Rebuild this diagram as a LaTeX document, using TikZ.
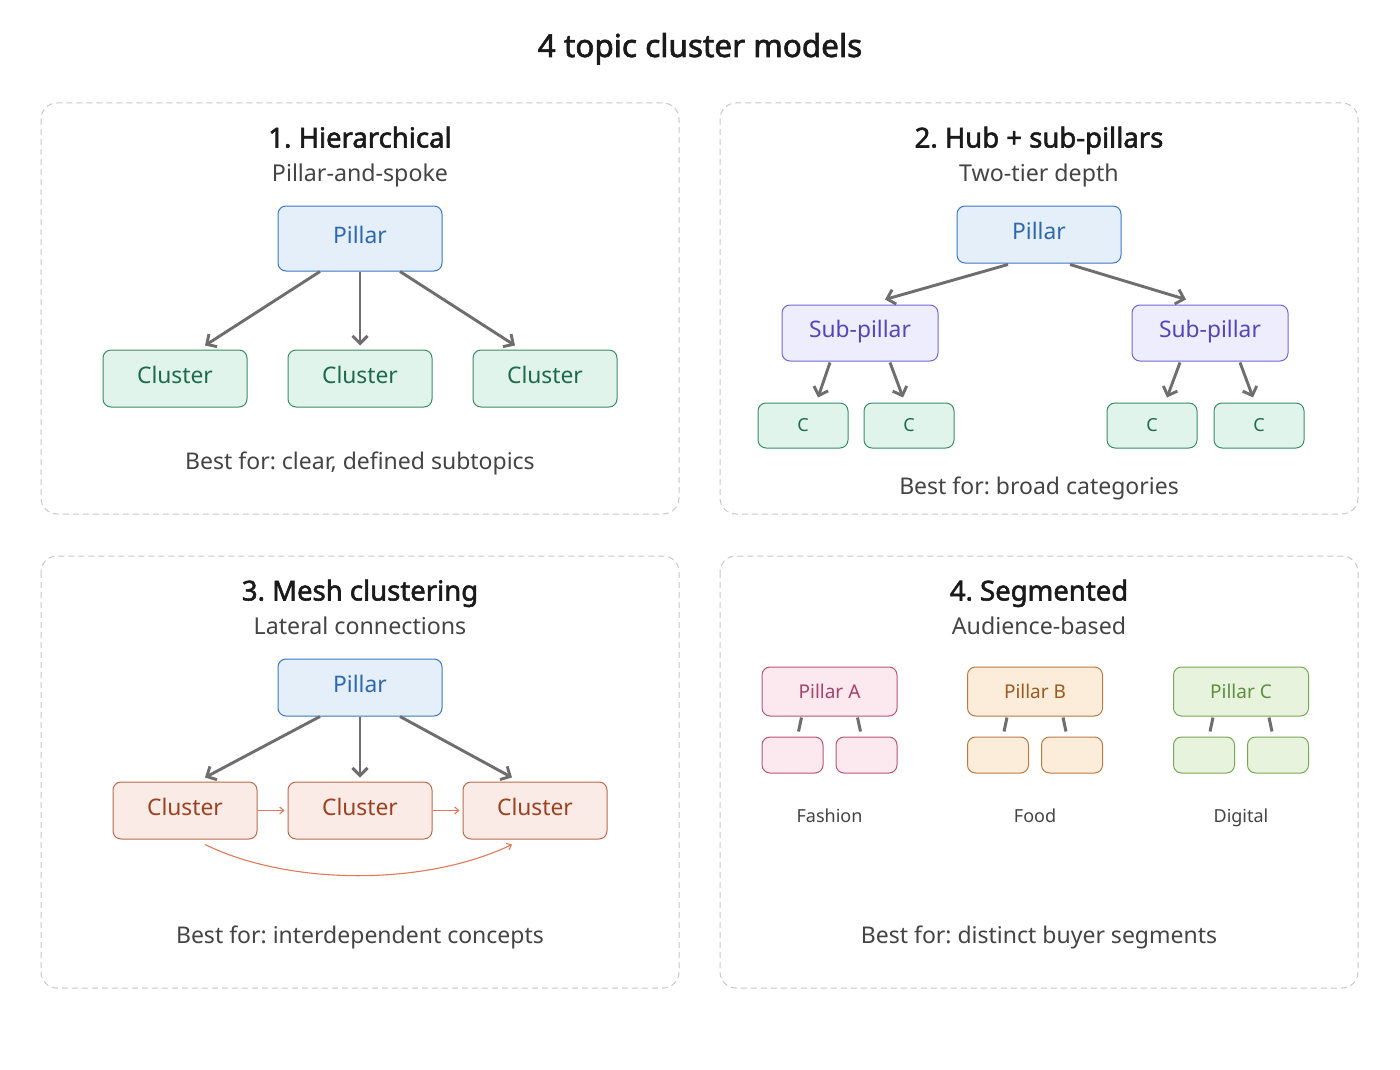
\documentclass[tikz,border=0pt]{standalone}
\usepackage{fontspec}
\setmainfont{Noto Sans}[AutoFakeBold=2]
\usetikzlibrary{arrows.meta,calc}
\frenchspacing
\definecolor{panelb}{HTML}{C8C8C8}
\definecolor{txtgray}{HTML}{444444}
\definecolor{ttl}{HTML}{1A1A1A}
\definecolor{arrgray}{HTML}{6E6E6E}
\definecolor{blfill}{HTML}{E5EFFA}\definecolor{bldraw}{HTML}{3A78C2}\definecolor{bltext}{HTML}{2F67AD}
\definecolor{grfill}{HTML}{E0F4EC}\definecolor{grdraw}{HTML}{3C8C68}\definecolor{grtext}{HTML}{1E6B4B}
\definecolor{pufill}{HTML}{EEEDFD}\definecolor{pudraw}{HTML}{7466D6}\definecolor{putext}{HTML}{5446B8}
\definecolor{orfill}{HTML}{FAEBE6}\definecolor{ordraw}{HTML}{BE6A4E}\definecolor{ortext}{HTML}{9C4222}\definecolor{orarr}{HTML}{E07B5A}
\definecolor{pkfill}{HTML}{FBE9EF}\definecolor{pkdraw}{HTML}{B9557A}\definecolor{pktext}{HTML}{A5436A}
\definecolor{tnfill}{HTML}{FBEDDA}\definecolor{tndraw}{HTML}{B97A45}\definecolor{tntext}{HTML}{9A5B22}
\definecolor{lgfill}{HTML}{E8F3DD}\definecolor{lgdraw}{HTML}{78A75A}\definecolor{lgtext}{HTML}{5E8F3F}
\tikzset{
  panel/.style={draw=panelb, line width=1pt, dash pattern=on 6pt off 4pt, rounded corners=16pt},
  box/.style={rounded corners=8pt, line width=1pt, inner sep=0pt, font=\fontsize{22.8}{26}\selectfont},
  upshift/.style={text height=16pt, text depth=7pt},
  bluebox/.style={box, upshift, fill=blfill, draw=bldraw, text=bltext, minimum width=164pt},
  greenbox/.style={box, upshift, fill=grfill, draw=grdraw, text=grtext, minimum width=144pt, minimum height=57pt},
  cbox/.style={box, fill=grfill, draw=grdraw, text=grtext, minimum width=90pt, minimum height=45pt, font=\fontsize{18}{22}\selectfont},
  purplebox/.style={box, upshift, fill=pufill, draw=pudraw, text=putext, minimum width=156pt, minimum height=56pt},
  orangebox/.style={box, upshift, fill=orfill, draw=ordraw, text=ortext, minimum width=144pt, minimum height=57pt},
  segbox/.style={box, minimum width=135pt, minimum height=49pt, font=\fontsize{19}{22}\selectfont},
  subbox/.style={box, minimum width=61pt, minimum height=36pt},
  pk/.style={fill=pkfill, draw=pkdraw, text=pktext},
  tn/.style={fill=tnfill, draw=tndraw, text=tntext},
  lg/.style={fill=lgfill, draw=lgdraw, text=lgtext},
  maintitle/.style={anchor=base, text=ttl, font=\fontsize{31.5}{34}\selectfont\bfseries},
  ptitle/.style={anchor=base, text=ttl, font=\fontsize{27.5}{30}\selectfont\bfseries},
  psub/.style={anchor=base, text=txtgray, font=\fontsize{23.2}{26}\selectfont},
  bestfor/.style={anchor=base, text=txtgray, font=\fontsize{23}{26}\selectfont},
  seglabel/.style={anchor=base, text=txtgray, font=\fontsize{18}{22}\selectfont},
  arr/.style={draw=arrgray, line width=2.9pt, -{Straight Barb[length=7.5pt,width=15pt]}},
  tick/.style={draw=arrgray, line width=3pt},
  oarr/.style={draw=orarr, line width=1.1pt, -{Straight Barb[length=4pt,width=7pt]}},
}
\begin{document}
\begin{tikzpicture}[x=1pt,y=-1pt]
\fill[white] (0,0) rectangle (1400,1070);
\useasboundingbox (0,0) rectangle (1400,1070);

\node[maintitle] (title) at (700,57) {4 topic cluster models};

% panels
\draw[panel] (41,103) rectangle (679,514);
\draw[panel] (720,103) rectangle (1358,514);
\draw[panel] (41,556) rectangle (679,988);
\draw[panel] (720,556) rectangle (1358,988);

% ---------- Panel 1
\node[ptitle] (t1) at (360,147.5) {1. Hierarchical};
\node[psub] (s1) at (360,181.5) {Pillar-and-spoke};
\node[bluebox, minimum height=65pt] (p1) at (360,238.5) {Pillar};
\node[greenbox] (c11) at (175,378.5) {Cluster};
\node[greenbox] (c12) at (360,378.5) {Cluster};
\node[greenbox] (c13) at (545,378.5) {Cluster};
\draw[arr] ([xshift=-40pt]p1.south) -- ([xshift=30pt,yshift=4pt]c11.north);
\draw[arr] (p1.south) -- ([yshift=4pt]c12.north);
\draw[arr] ([xshift=40pt]p1.south) -- ([xshift=-30pt,yshift=4pt]c13.north);
\node[bestfor] (b1) at (360,469.5) {Best for: clear, defined subtopics};

% ---------- Panel 2
\node[ptitle] (t2) at (1039,147.5) {2. Hub + sub-pillars};
\node[psub] (s2) at (1039,181.5) {Two-tier depth};
\node[bluebox, minimum height=57pt] (p2) at (1039,234.5) {Pillar};
\node[purplebox] (sp1) at (860,333) {Sub-pillar};
\node[purplebox] (sp2) at (1210,333) {Sub-pillar};
\node[cbox] (cc1) at (803,425.5) {C};
\node[cbox] (cc2) at (909,425.5) {C};
\node[cbox] (cc3) at (1152,425.5) {C};
\node[cbox] (cc4) at (1259,425.5) {C};
\draw[arr] ([xshift=-31pt,yshift=-1pt]p2.south) -- ([xshift=25pt,yshift=5pt]sp1.north);
\draw[arr] ([xshift=31pt,yshift=-1pt]p2.south) -- ([xshift=-24pt,yshift=5pt]sp2.north);
\draw[arr] ([xshift=-30pt,yshift=-1pt]sp1.south) -- ([xshift=15pt,yshift=5pt]cc1.north);
\draw[arr] ([xshift=30pt,yshift=-1pt]sp1.south) -- ([xshift=-6pt,yshift=5pt]cc2.north);
\draw[arr] ([xshift=-30pt,yshift=-1pt]sp2.south) -- ([xshift=15pt,yshift=5pt]cc3.north);
\draw[arr] ([xshift=30pt,yshift=-1pt]sp2.south) -- ([xshift=-6pt,yshift=5pt]cc4.north);
\node[bestfor] (b2) at (1039,494.5) {Best for: broad categories};

% ---------- Panel 3
\node[ptitle] (t3) at (360,600.5) {3. Mesh clustering};
\node[psub] (s3) at (360,634.5) {Lateral connections};
\node[bluebox, minimum height=57pt] (p3) at (360,687.5) {Pillar};
\node[orangebox] (o1) at (185,810.5) {Cluster};
\node[orangebox] (o2) at (360,810.5) {Cluster};
\node[orangebox] (o3) at (535,810.5) {Cluster};
\draw[arr] ([xshift=-40pt]p3.south) -- ([xshift=20pt,yshift=4pt]o1.north);
\draw[arr] (p3.south) -- ([yshift=4pt]o2.north);
\draw[arr] ([xshift=40pt]p3.south) -- ([xshift=-23pt,yshift=4pt]o3.north);
\draw[oarr] (o1.east) -- ([xshift=-3pt]o2.west);
\draw[oarr] (o2.east) -- ([xshift=-3pt]o3.west);
\coordinate (cs) at ([xshift=20pt,yshift=-5pt]o1.south);
\coordinate (ce) at ([xshift=-23pt,yshift=-5pt]o3.south);
\draw[oarr] (cs) .. controls (290,886) and (425,886) .. (ce);
\node[bestfor] (b3) at (360,943.5) {Best for: interdependent concepts};

% ---------- Panel 4
\node[ptitle] (t4) at (1039,600.5) {4. Segmented};
\node[psub] (s4) at (1039,634.5) {Audience-based};

\node[segbox, pk] (pa) at (829.5,691.5) {Pillar A};
\node[subbox, pk] (pa1) at (792.5,755) {};
\node[subbox, pk] (pa2) at (866.5,755) {};
\draw[tick] ([xshift=-28pt,yshift=-1pt]pa.south) -- ([xshift=6pt,yshift=5pt]pa1.north);
\draw[tick] ([xshift=28pt,yshift=-1pt]pa.south) -- ([xshift=-6pt,yshift=5pt]pa2.north);
\node[seglabel] (la) at (829.5,822.5) {Fashion};

\node[segbox, tn] (pb) at (1035,691.5) {Pillar B};
\node[subbox, tn] (pb1) at (998,755) {};
\node[subbox, tn] (pb2) at (1072,755) {};
\draw[tick] ([xshift=-28pt,yshift=-1pt]pb.south) -- ([xshift=6pt,yshift=5pt]pb1.north);
\draw[tick] ([xshift=28pt,yshift=-1pt]pb.south) -- ([xshift=-6pt,yshift=5pt]pb2.north);
\node[seglabel] (lb) at (1035,822.5) {Food};

\node[segbox, lg] (pc) at (1241,691.5) {Pillar C};
\node[subbox, lg] (pc1) at (1204,755) {};
\node[subbox, lg] (pc2) at (1278,755) {};
\draw[tick] ([xshift=-28pt,yshift=-1pt]pc.south) -- ([xshift=6pt,yshift=5pt]pc1.north);
\draw[tick] ([xshift=28pt,yshift=-1pt]pc.south) -- ([xshift=-6pt,yshift=5pt]pc2.north);
\node[seglabel] (lc) at (1241,822.5) {Digital};

\node[bestfor] (b4) at (1039,943.5) {Best for: distinct buyer segments};
\end{tikzpicture}
\end{document}
